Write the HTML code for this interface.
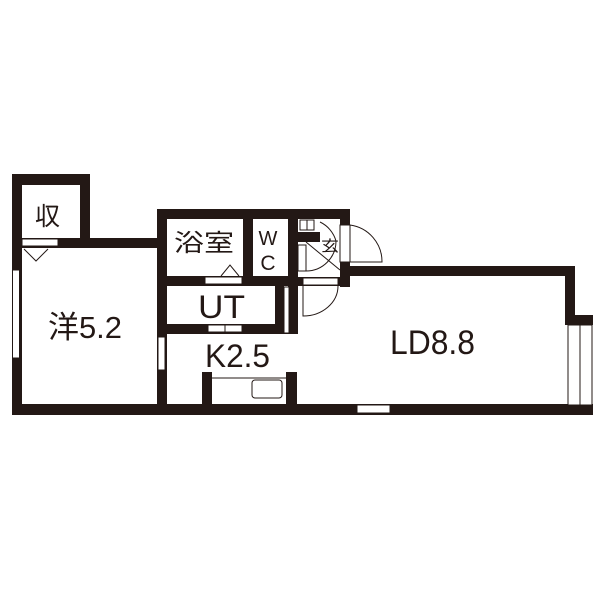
<!DOCTYPE html>
<html><head><meta charset="utf-8"><style>body{margin:0;background:#fff}svg{display:block}text{font-family:"Liberation Sans","Noto Sans CJK JP",sans-serif;fill:#231815}</style></head>
<body>
<svg width="600" height="600" viewBox="0 0 600 600" xmlns="http://www.w3.org/2000/svg">
<g fill="#231815">
<rect x="12" y="174" width="78" height="11"/>
<rect x="12" y="174" width="10" height="241"/>
<rect x="80" y="174" width="10" height="70"/>
<rect x="12" y="238" width="155" height="10"/>
<rect x="157" y="209" width="193" height="10"/>
<rect x="157" y="209" width="10" height="206"/>
<rect x="157" y="276" width="141" height="10"/>
<rect x="157" y="324" width="141" height="10"/>
<rect x="243" y="209" width="10" height="77"/>
<rect x="288" y="209" width="10" height="125"/>
<rect x="275" y="286" width="9" height="48"/>
<rect x="340" y="209" width="10" height="78"/>
<rect x="298" y="277" width="52" height="9"/>
<rect x="298" y="232" width="22" height="10"/>
<rect x="340" y="266" width="235" height="10"/>
<rect x="565" y="266" width="10" height="59"/>
<rect x="565" y="315" width="28" height="10"/>
<rect x="12" y="404" width="581" height="11"/>
<rect x="202" y="372" width="10" height="33"/>
<rect x="286" y="372" width="11" height="33"/>
</g>
<g fill="#fff" stroke="#231815" stroke-width="1">
<rect x="22" y="239" width="36" height="7"/>
<rect x="12.5" y="270" width="7" height="88"/>
<rect x="158" y="337" width="7" height="33"/>
<rect x="205" y="277" width="37" height="7"/>
<rect x="208" y="325" width="17" height="7"/>
<rect x="225" y="325" width="17" height="7"/>
<rect x="284" y="287" width="5" height="46"/>
<rect x="357" y="405" width="33" height="8"/>
<rect x="568" y="325" width="12" height="80"/>
<rect x="580" y="325" width="12" height="80"/>
<rect x="340" y="225" width="10" height="37"/>
<rect x="303" y="278" width="35" height="7"/>
<rect x="298" y="245" width="8" height="26"/>
<rect x="300" y="220" width="7" height="10"/>
<rect x="307" y="220" width="7" height="10"/>
</g>
<g fill="none" stroke="#231815" stroke-width="1">
<path d="M350 225 A37 37 0 0 1 382 262 L350 262"/>
<path d="M303 286 L303 316 A35 30 0 0 0 338 286"/>
<path d="M306 271 A30 30 0 0 0 336 241"/>
<path d="M320 222 A30 30 0 0 1 336 241"/>
<path d="M306 242 L340 270"/>
<path d="M212 378 L286 378"/>
<rect x="252" y="380" width="30" height="18" rx="3"/>
<path d="M24 249 L36 261 L48 249"/>
<path d="M221 276 L230 265 L239 276"/>
</g>
<text x="35" y="225" font-size="25" textLength="25" lengthAdjust="spacingAndGlyphs">収</text>
<text x="174" y="251" font-size="24" textLength="60" lengthAdjust="spacingAndGlyphs">浴室</text>
<text x="268" y="245" font-size="20" text-anchor="middle">W</text>
<text x="268" y="270" font-size="21" text-anchor="middle">C</text>
<text x="321" y="251" font-size="15" textLength="18" lengthAdjust="spacingAndGlyphs">玄</text>
<text x="198" y="318" font-size="32" textLength="47" lengthAdjust="spacingAndGlyphs">UT</text>
<text x="48" y="338" font-size="31" textLength="74" lengthAdjust="spacingAndGlyphs">洋5.2</text>
<text x="205" y="367" font-size="32" textLength="65" lengthAdjust="spacingAndGlyphs">K2.5</text>
<text x="390" y="354" font-size="34" textLength="85" lengthAdjust="spacingAndGlyphs">LD8.8</text>
</svg>
</body></html>
